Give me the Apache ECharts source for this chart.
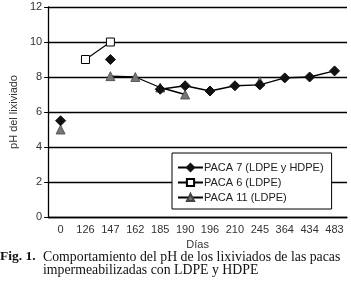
<!DOCTYPE html>
<html>
<head>
<meta charset="utf-8">
<script src="https://cdn.jsdelivr.net/npm/echarts@6/dist/echarts.min.js"></script>
<style>
  html, body { margin: 0; padding: 0; background: #fff; }
  #chart { width: 351px; height: 291px; }
</style>
</head>
<body>
<div id="chart"></div>
<script>
// días
var dias = ['0', '126', '147', '162', '185', '190', '196', '210', '245', '364', '434', '483'];
// pH de cada paca (null = sin medición)
var paca7 = [5.5, null, 9.0, null, 7.3, 7.5, 7.2, 7.5, 7.55, 7.95, 8.0, 8.35];
var paca6 = [null, 9.0, 10.0, null, null, null, null, null, null, null, null, null];
var paca11 = [5.0, null, 8.05, 8.0, 7.4, 7.0, null, null, 7.75, null, null, null];
var yTicks = [0, 2, 4, 6, 8, 10, 12];

var myChart = echarts.init(document.getElementById('chart'));
myChart.setOption({
  backgroundColor: '#fff',
  animation: false,
  grid: {
    left: 33,
    right: 4,
    top: 7,
    bottom: 74
  },
  legend: {
    orient: 'vertical',
    left: 172,
    top: 153,
    width: 156,
    padding: [9, 8, 6, 5],
    itemGap: 4,
    itemWidth: 25,
    itemHeight: 9,
    backgroundColor: '#fff',
    borderColor: '#000',
    borderWidth: 1,
    borderRadius: 0,
    textStyle: { fontFamily: 'Liberation Sans', fontSize: 11, color: '#222', padding: [0, 0, 0, -4] },
    data: ['PACA 7 (LDPE y HDPE)', 'PACA 6 (LDPE)', 'PACA 11 (LDPE)']
  },
  xAxis: {
    type: 'category',
    data: dias,
    name: 'Días',
    nameLocation: 'middle',
    nameGap: 22,
    nameTextStyle: { fontFamily: 'Liberation Sans', fontSize: 11, color: '#333' },
    axisLine: { lineStyle: { color: '#000', width: 1.3 } },
    axisTick: { show: false },
    axisLabel: { fontFamily: 'Liberation Sans', fontSize: 11, color: '#333', margin: 7, interval: 0 }
  },
  yAxis: {
    type: 'value',
    min: yTicks[0],
    max: yTicks[yTicks.length - 1],
    interval: 2,
    name: 'pH del lixiviado',
    nameLocation: 'middle',
    nameGap: 20,
    nameTextStyle: { fontFamily: 'Liberation Sans', fontSize: 11, color: '#333' },
    axisLine: { show: true, lineStyle: { color: '#000', width: 1.3 } },
    axisTick: { show: true, length: 4, lineStyle: { color: '#000' } },
    axisLabel: { fontFamily: 'Liberation Sans', fontSize: 11, color: '#333', margin: 6 },
    splitLine: { show: true, lineStyle: { color: '#000', width: 1.3 } }
  },
  series: [
    {
      name: 'PACA 7 (LDPE y HDPE)',
      type: 'line',
      data: paca7,
      symbol: 'diamond',
      symbolSize: 10,
      lineStyle: { color: '#000', width: 1.3 },
      itemStyle: { color: '#111', borderColor: '#111', borderWidth: 1 },
      z: 3
    },
    {
      name: 'PACA 6 (LDPE)',
      type: 'line',
      data: paca6,
      symbol: 'rect',
      symbolSize: 8,
      showAllSymbol: true,
      lineStyle: { color: '#000', width: 1.1 },
      itemStyle: { color: '#fff', borderColor: '#000', borderWidth: 1 },
      z: 4
    },
    {
      name: 'PACA 11 (LDPE)',
      type: 'line',
      data: paca11,
      symbol: 'triangle',
      symbolSize: 9,
      lineStyle: { color: '#000', width: 1.3 },
      itemStyle: { color: '#777', borderColor: '#444', borderWidth: 0.8 },
      z: 2
    }
  ],
  graphic: [
    {
      type: 'text',
      left: 0,
      top: 250,
      style: { text: 'Fig. 1.', font: 'bold 13.5px "Liberation Serif"', fill: '#111' }
    },
    {
      type: 'text',
      left: 43,
      top: 250,
      style: {
        text: 'Comportamiento del pH de los lixiviados de las pacas\nimpermeabilizadas con LDPE y HDPE',
        font: '13.8px "Liberation Serif"',
        lineHeight: 13,
        fill: '#111'
      }
    }
  ]
});
</script>
</body>
</html>
